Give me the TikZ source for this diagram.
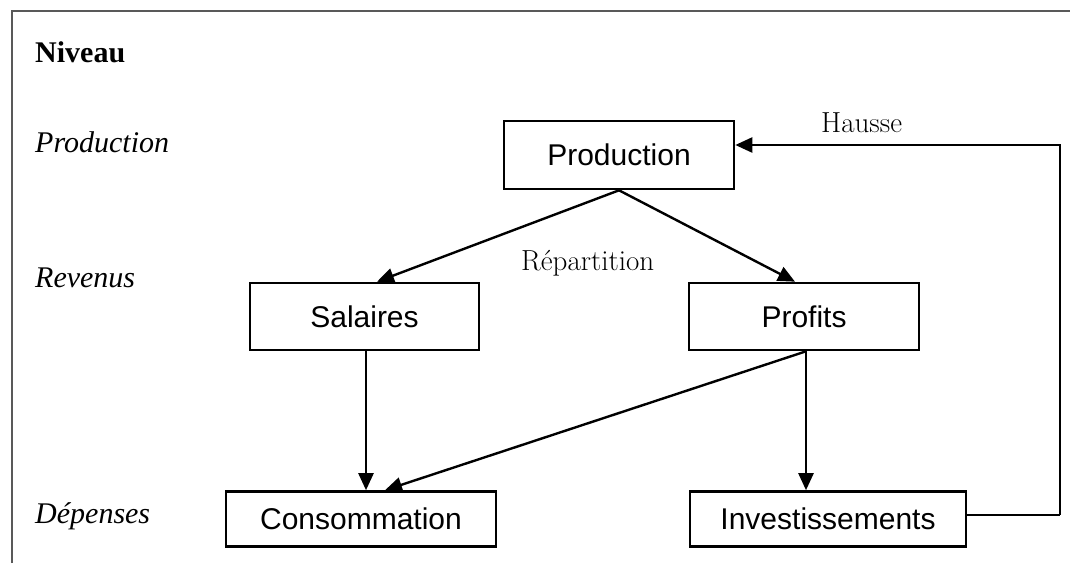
\documentclass[tikz,border=0pt]{standalone}
\usepackage{fontspec}
\newfontfamily\sansA{Liberation Sans}
\newfontfamily\serifT{Liberation Serif}
\usetikzlibrary{arrows.meta}
\begin{document}
\begin{tikzpicture}[x=1pt,y=-1pt,
  boxA/.style={draw, line width=2.6pt, inner sep=0pt, font=\sansA\fontsize{30}{36}\selectfont},
  lvl/.style={anchor=base west, inner sep=0pt, font=\serifT\itshape\fontsize{30}{36}\selectfont},
  lbl/.style={anchor=base west, inner sep=0pt, font=\fontsize{29}{34}\selectfont},
  arr/.style={line width=2.4pt, -{Triangle[length=17pt,width=15pt]}},
  lin/.style={line width=2.4pt}]
\useasboundingbox (0,0) rectangle (1070,563);
% frame
\draw[line width=1.6pt, black!65] (12,563) -- (12,11) -- (1070,11);
% level labels
\node[anchor=base west, inner sep=0pt, font=\serifT\bfseries\fontsize{30}{36}\selectfont] (niv) at (35,62) {Niveau};
\node[lvl] (lprod) at (35,152) {Production};
\node[lvl] (lrev) at (35,287) {Revenus};
\node[lvl] (ldep) at (35,523) {Dépenses};
% boxes
\node[boxA, minimum width=230pt, minimum height=68pt] (prod) at (619,155) {Production};
\node[boxA, minimum width=229pt, minimum height=67pt] (sal) at (364.5,316.5) {Salaires};
\node[boxA, minimum width=230pt, minimum height=67pt] (prof) at (804,316.5) {Profits};
\node[boxA, minimum width=270pt, minimum height=55pt] (cons) at (361,519) {Consommation};
\node[boxA, minimum width=276pt, minimum height=55pt] (inv) at (828,519) {Investissements};
% labels
\node[lbl] (rep) at (521,270) {Répartition};
\node[lbl] (hau) at (821,132) {Hausse};
% connectors
\draw[arr] (prod.south) -- ([xshift=12.5pt]sal.north);
\draw[arr] (prod.south) -- ([xshift=-9pt]prof.north);
\draw[arr] ([xshift=1.5pt]sal.south) -- ([xshift=5pt]cons.north);
\draw[arr] ([xshift=2pt]prof.south) -- ([xshift=24pt]cons.north);
\draw[arr] ([xshift=2pt]prof.south) -- ([xshift=-22pt]inv.north);
\coordinate (fb) at (1060,515);
\draw[lin] ([yshift=4pt]inv.east) -- (fb);
\draw[arr] (fb) |- ([yshift=10pt]prod.east);
\end{tikzpicture}
\end{document}
